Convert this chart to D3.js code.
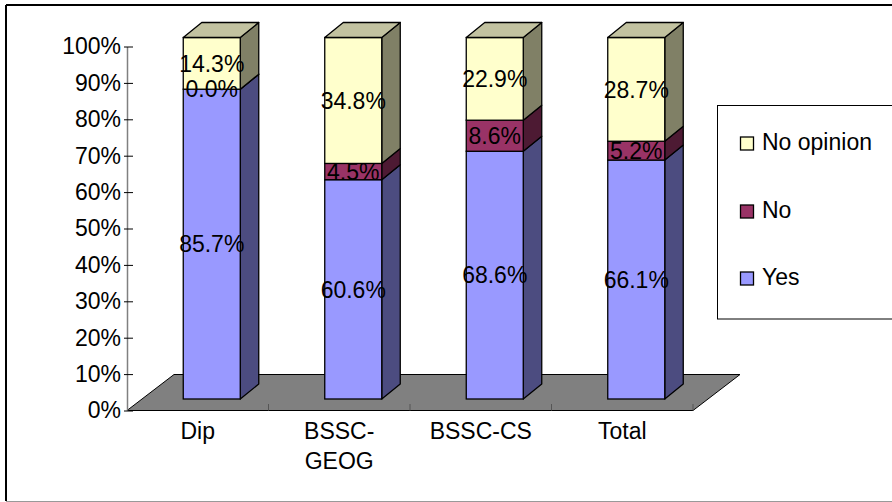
<!DOCTYPE html>
<html>
<head>
<meta charset="utf-8">
<script src="https://cdn.jsdelivr.net/npm/d3@7/dist/d3.min.js"></script>
<style>
html,body{margin:0;padding:0;background:#fff;}
svg{display:block;font-family:"Liberation Sans",Arial,sans-serif;}
</style>
</head>
<body>
<svg id="chart" width="892" height="502"></svg>
<script>
const categories = ["Dip", "BSSC-GEOG", "BSSC-CS", "Total"];
const categoryLines = [["Dip"], ["BSSC-", "GEOG"], ["BSSC-CS"], ["Total"]];
const seriesNames = ["Yes", "No", "No opinion"];
const yesValues = [85.7, 60.6, 68.6, 66.1];
const noValues = [0.0, 4.5, 8.6, 5.2];
const noOpinionValues = [14.3, 34.8, 22.9, 28.7];
const yTicks = [0, 10, 20, 30, 40, 50, 60, 70, 80, 90, 100];

const frontColors = ["#9999FF", "#993366", "#FFFFCC"];
const sideColors = ["#4C4C80", "#4D1A33", "#808066"];
const topColors = ["#7373BF", "#732640", "#C2C2A0"];

const svg = d3.select("#chart");
const FS = 23;

// frame
svg.append("line").attr("x1",6).attr("y1",5).attr("x2",892).attr("y2",5).attr("stroke","#000").attr("stroke-width",2);
svg.append("line").attr("x1",6).attr("y1",5).attr("x2",6).attr("y2",501).attr("stroke","#000").attr("stroke-width",2);
svg.append("line").attr("x1",6).attr("y1",501.5).attr("x2",892).attr("y2",501.5).attr("stroke","#999").attr("stroke-width",1);

// scales
const x = d3.scaleBand().domain(categories).range([127, 693]);
const yAxisScale = d3.scaleLinear().domain([0, 100]).range([410.5, 46.5]);
const yBar = d3.scaleLinear().domain([0, 100]).range([399, 37.5]);
const DX = 47, DY = 36;     // floor depth
const BX = 18.5, BY = 15;   // bar depth
const barW = 57, barShift = 14;

// floor
const floorPts = [[127,410.5],[693,410.5],[693+DX,410.5-DY],[127+DX,410.5-DY]];
svg.append("polygon").attr("points", floorPts.map(p=>p.join(",")).join(" "))
  .attr("fill","#808080").attr("stroke","#000").attr("stroke-width",1);

// category boundary ticks on front edge
categories.forEach((c,i)=>{
  const xx = x(c) + x.bandwidth();
  svg.append("line").attr("x1",xx).attr("x2",xx).attr("y1",410.5).attr("y2",404).attr("stroke","#555").attr("stroke-width",1);
});

// y axis
const yAxis = d3.axisLeft(yAxisScale).tickValues(yTicks).tickFormat(d=>d+"%").tickSize(0).tickPadding(6);
const gY = svg.append("g").attr("transform","translate(127,0)").call(yAxis);
gY.select(".domain").attr("stroke","#808080").attr("stroke-width",1.5);
gY.selectAll(".tick text").attr("font-size",FS).attr("font-family","Liberation Sans, Arial, sans-serif").attr("fill","#000");
gY.selectAll(".tick").append("line").attr("x1",-3).attr("x2",6).attr("stroke","#000").attr("stroke-width",1);

// stacked data
const table = categories.map((c,i)=>({cat:c, Yes:yesValues[i], No:noValues[i], "No opinion":noOpinionValues[i]}));
const stack = d3.stack().keys(seriesNames).offset(d3.stackOffsetExpand);
const stacked = stack(table);

const barsG = svg.append("g");
const labelsG = svg.append("g");
const poly = pts => pts.map(p=>p.join(",")).join(" ");

categories.forEach((c,i)=>{
  const x0 = x(c) + x.bandwidth()/2 + barShift - barW/2;
  const x1 = x0 + barW;
  stacked.forEach((s,k)=>{
    const v0 = s[i][0]*100, v1 = s[i][1]*100;
    const y0 = yBar(v0), y1 = yBar(v1);
    // side face
    barsG.append("polygon").attr("points", poly([[x1,y0],[x1+BX,y0-BY],[x1+BX,y1-BY],[x1,y1]]))
      .attr("fill", sideColors[k]).attr("stroke","#000").attr("stroke-width",1.3).attr("stroke-linejoin","round");
    // front face
    barsG.append("rect").attr("x",x0).attr("y",y1).attr("width",barW).attr("height",Math.max(0,y0-y1))
      .attr("fill", frontColors[k]).attr("stroke","#000").attr("stroke-width",1.3);
    // top face for topmost
    if (k === stacked.length-1) {
      barsG.append("polygon").attr("points", poly([[x0,y1],[x0+BX,y1-BY],[x1+BX,y1-BY],[x1,y1]]))
        .attr("fill", topColors[k]).attr("stroke","#000").attr("stroke-width",1.3).attr("stroke-linejoin","round");
    }
  });
});

// data labels
const rawVals = [yesValues, noValues, noOpinionValues];
categories.forEach((c,i)=>{
  const cx = x(c) + x.bandwidth()/2 + barShift;
  stacked.forEach((s,k)=>{
    const v0 = s[i][0]*100, v1 = s[i][1]*100;
    const cy = (yBar(v0)+yBar(v1))/2;
    labelsG.append("text").attr("x",cx).attr("y",cy).attr("dy","0.36em")
      .attr("text-anchor","middle").attr("font-size",FS).attr("fill","#000")
      .text(rawVals[k][i].toFixed(1)+"%");
  });
});

// category labels
categories.forEach((c,i)=>{
  const cx = x(c) + x.bandwidth()/2;
  categoryLines[i].forEach((ln,j)=>{
    svg.append("text").attr("x",cx).attr("y",438.5 + j*30).attr("text-anchor","middle")
      .attr("font-size",FS).attr("fill","#000").text(ln);
  });
});

// legend
svg.append("rect").attr("x",717.5).attr("y",105.5).attr("width",190).attr("height",213.5)
  .attr("fill","#fff").attr("stroke","#000").attr("stroke-width",1);
const legendOrder = [2,1,0];
const legendBase = [150, 218, 285];
legendOrder.forEach((k,j)=>{
  svg.append("rect").attr("x",740.5).attr("y",legendBase[j]-13).attr("width",13).attr("height",13)
    .attr("fill",frontColors[k]).attr("stroke","#000").attr("stroke-width",1.3);
  svg.append("text").attr("x",762).attr("y",legendBase[j]).attr("font-size",FS).attr("fill","#000").text(seriesNames[k]);
});
</script>
</body>
</html>
